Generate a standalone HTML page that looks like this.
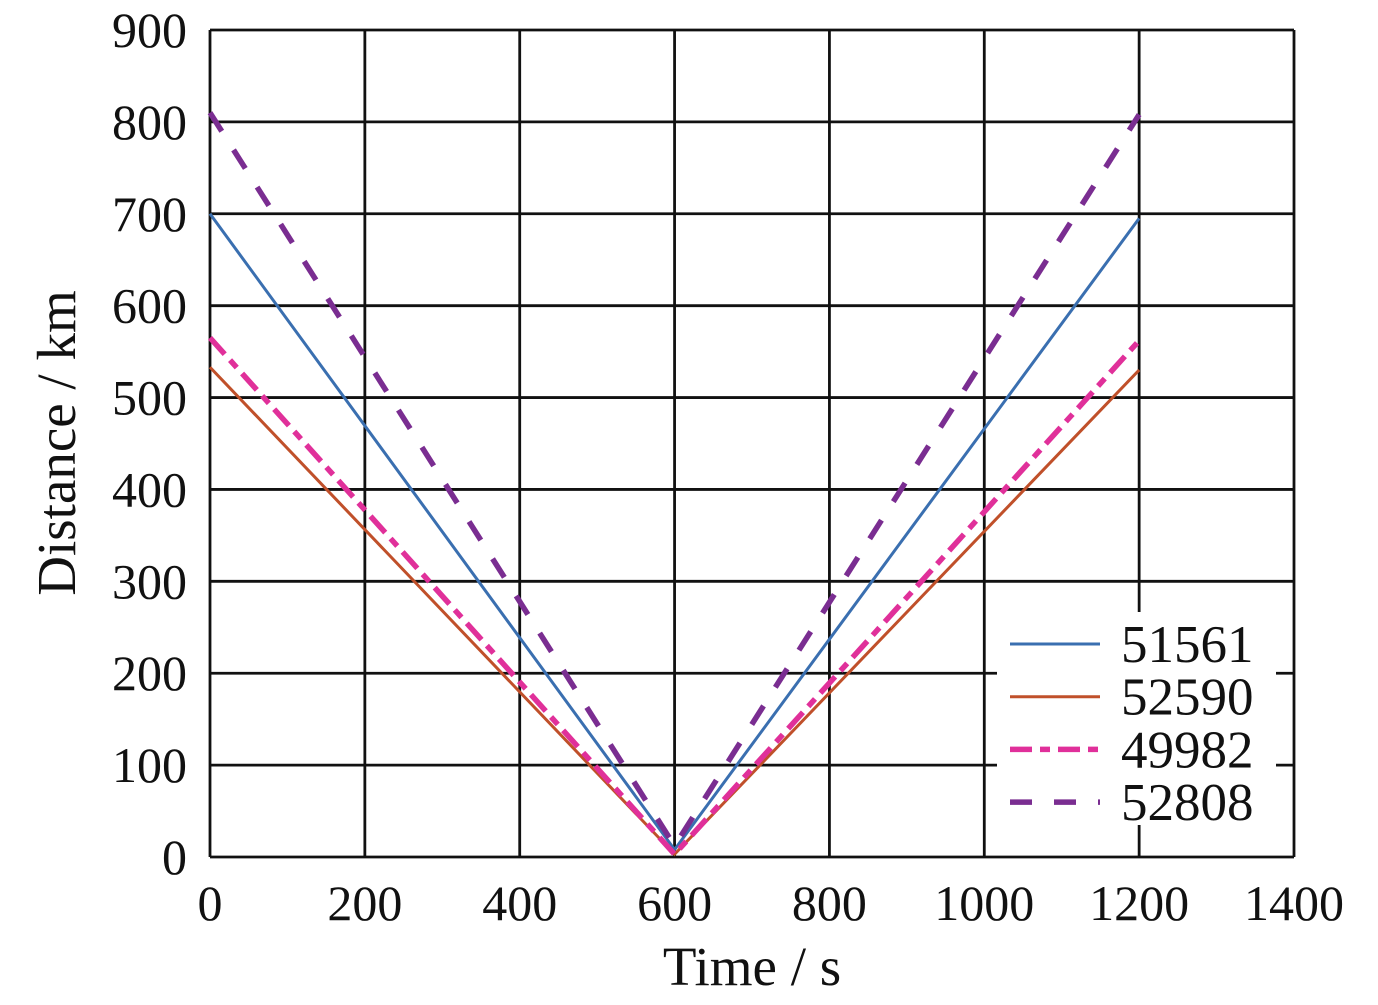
<!DOCTYPE html>
<html><head><meta charset="utf-8"><style>
body{margin:0;background:#fff}
svg text{font-family:"Liberation Serif",serif;fill:#111}
</style></head><body>
<svg width="1378" height="1000">
<g id="grid"></g><g id="series"></g><g id="ticks"></g>
<text x="752" y="985" font-size="55" text-anchor="middle">Time / s</text>
<text transform="translate(75,443) rotate(-90)" font-size="55" text-anchor="middle">Distance / km</text>
<g id="legend"></g>
</svg>
<script>
const xTicks=[0,200,400,600,800,1000,1200,1400];
const yTicks=[0,100,200,300,400,500,600,700,800,900];
const times=[0,600,1200];
const seriesNames=["51561","52590","49982","52808"];
const s51561=[700,8,695];
const s52590=[533,3,530];
const s49982=[565,3,562];
const s52808=[810,12,808];
const seriesValues=[s51561,s52590,s49982,s52808];
const colors=["#3a6fb0","#c0502a","#e0309a","#7a2d91"];
const widths=[3,3,5.5,5.5];
const dashes=["","","22 8 10 8","22 22"];
const X0=210,X1=1294,Y0=857,Y1=30;
const sx=v=>X0+(v-0)/1400*(X1-X0);
const sy=v=>Y0-(v/900)*(Y0-Y1);
const NS="http://www.w3.org/2000/svg";
function mk(t,a,p){const e=document.createElementNS(NS,t);for(const k in a)e.setAttribute(k,a[k]);p.appendChild(e);return e;}
const grid=document.getElementById('grid'),ticks=document.getElementById('ticks');
xTicks.forEach(t=>{const l=mk('line',{x1:sx(t),x2:sx(t),y1:Y1,y2:Y0,stroke:'#111','stroke-width':2.8},grid);


const tx=mk('text',{x:sx(t),y:920,'font-size':50,'text-anchor':'middle'},ticks);tx.textContent=t;

});
yTicks.forEach(t=>{const l=mk('line',{x1:X0,x2:X1,y1:sy(t),y2:sy(t),stroke:'#111','stroke-width':2.8},grid);


const tx=mk('text',{x:187,y:sy(t)+17,'font-size':50,'text-anchor':'end'},ticks);tx.textContent=t;

});
const sg=document.getElementById('series');
seriesValues.forEach((vals,i)=>{const p=mk('polyline',{points:vals.map((v,j)=>sx(times[j])+','+sy(v)).join(' '),fill:'none',stroke:colors[i],'stroke-width':widths[i],'stroke-dasharray':dashes[i]},sg);

});
const lg=document.getElementById('legend');
mk('rect',{x:997,y:612,width:279,height:213,fill:'#fff'},lg);
seriesNames.forEach((n,i)=>{const y=644+i*52.7;
const l=mk('line',{x1:1010,x2:1100,y1:y,y2:y,stroke:colors[i],'stroke-width':widths[i],'stroke-dasharray':dashes[i]},lg);


const t=mk('text',{x:1121,y:y+18,'font-size':53},lg);t.textContent=n;

});
</script>
</body></html>
